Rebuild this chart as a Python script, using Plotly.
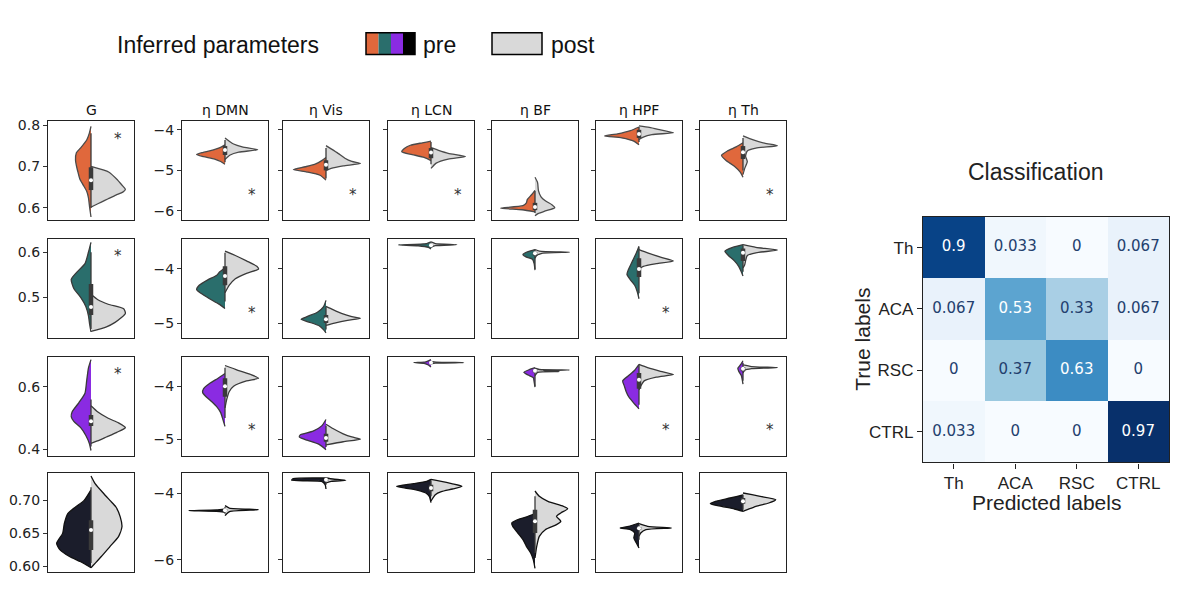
import plotly.graph_objects as go

# ---------------- data ----------------
params = ["G", "η DMN", "η Vis", "η LCN", "η BF", "η HPF", "η Th"]

# density profiles: [value, half-width] ; one list per parameter column
r1_pre = [
    [[0.797,0],[0.78,0.02],[0.764,0.05],[0.745,0.12],[0.733,0.17],[0.715,0.18],[0.702,0.17],[0.685,0.15],[0.670,0.13],[0.655,0.09],[0.64,0.05],[0.625,0.03],[0.6,0.015],[0.578,0]],
    [[-4.37,0],[-4.42,0.04],[-4.47,0.1],[-4.52,0.18],[-4.56,0.26],[-4.61,0.33],[-4.66,0.25],[-4.72,0.12],[-4.78,0.05],[-4.85,0]],
    [[-4.68,0],[-4.76,0.05],[-4.84,0.12],[-4.91,0.24],[-4.98,0.38],[-5.04,0.22],[-5.12,0.07],[-5.24,0]],
    [[-4.28,0],[-4.32,0.1],[-4.38,0.24],[-4.46,0.31],[-4.54,0.34],[-4.61,0.22],[-4.68,0.08],[-4.76,0]],
    [[-5.49,0],[-5.6,0.04],[-5.72,0.09],[-5.8,0.1],[-5.87,0.14],[-5.93,0.40],[-5.97,0.15],[-6.02,0]],
    [[-3.93,0],[-4.02,0.1],[-4.1,0.25],[-4.15,0.40],[-4.2,0.2],[-4.28,0.06],[-4.37,0]],
    [[-4.32,0],[-4.42,0.08],[-4.52,0.18],[-4.63,0.25],[-4.75,0.2],[-4.9,0.1],[-5.05,0.03],[-5.17,0]],
]
r1_post = [
    [[0.70,0],[0.686,0.21],[0.667,0.31],[0.655,0.36],[0.645,0.40],[0.638,0.37],[0.631,0.29],[0.622,0.2],[0.614,0.12],[0.607,0.05],[0.602,0]],
    [[-4.2,0],[-4.28,0.05],[-4.35,0.1],[-4.42,0.2],[-4.49,0.38],[-4.55,0.16],[-4.62,0.06],[-4.73,0]],
    [[-4.39,0],[-4.47,0.06],[-4.58,0.14],[-4.7,0.22],[-4.78,0.3],[-4.83,0.40],[-4.89,0.2],[-4.95,0.06],[-5.0,0]],
    [[-4.44,0],[-4.5,0.08],[-4.58,0.2],[-4.66,0.40],[-4.72,0.2],[-4.82,0.06],[-4.95,0]],
    [[-5.17,0],[-5.3,0.03],[-5.5,0.04],[-5.65,0.07],[-5.75,0.12],[-5.85,0.2],[-5.92,0.23],[-6.0,0.12],[-6.06,0.04],[-6.12,0]],
    [[-3.9,0],[-3.94,0.12],[-4.0,0.25],[-4.07,0.40],[-4.12,0.15],[-4.18,0.05],[-4.24,0]],
    [[-4.15,0],[-4.25,0.12],[-4.33,0.25],[-4.39,0.40],[-4.45,0.15],[-4.52,0.05],[-4.65,0.03],[-4.78,0.05],[-4.95,0.02],[-5.1,0]],
]
r2_pre = [
    [[0.622,0],[0.60,0.03],[0.575,0.07],[0.555,0.17],[0.54,0.23],[0.52,0.2],[0.50,0.12],[0.48,0.06],[0.46,0.03],[0.44,0.015],[0.424,0]],
    [[-3.98,0],[-4.05,0.06],[-4.12,0.1],[-4.2,0.2],[-4.3,0.3],[-4.38,0.33],[-4.45,0.28],[-4.55,0.18],[-4.65,0.07],[-4.73,0]],
    [[-4.58,0],[-4.7,0.03],[-4.8,0.1],[-4.88,0.22],[-4.93,0.29],[-4.98,0.2],[-5.05,0.08],[-5.12,0.03],[-5.18,0]],
    [[-3.5,0],[-3.53,0.05],[-3.555,0.38],[-3.57,0.15],[-3.6,0.03],[-3.63,0]],
    [[-3.64,0],[-3.68,0.08],[-3.73,0.14],[-3.78,0.1],[-3.82,0.03],[-3.9,0.01],[-4.02,0]],
    [[-3.58,0],[-3.7,0.03],[-3.8,0.06],[-3.9,0.09],[-4.0,0.12],[-4.1,0.14],[-4.2,0.1],[-4.3,0.05],[-4.42,0.02],[-4.55,0]],
    [[-3.55,0],[-3.6,0.12],[-3.67,0.21],[-3.75,0.17],[-3.85,0.1],[-3.95,0.05],[-4.05,0.02],[-4.13,0]],
]
r2_post = [
    [[0.507,0],[0.495,0.08],[0.485,0.2],[0.475,0.38],[0.465,0.40],[0.455,0.35],[0.445,0.28],[0.435,0.18],[0.425,0]],
    [[-3.67,0],[-3.75,0.12],[-3.85,0.25],[-3.95,0.37],[-4.0,0.39],[-4.08,0.25],[-4.18,0.12],[-4.3,0.05],[-4.44,0]],
    [[-4.69,0],[-4.75,0.08],[-4.82,0.18],[-4.88,0.3],[-4.91,0.40],[-4.95,0.25],[-5.0,0.1],[-5.04,0]],
    [[-3.5,0],[-3.53,0.05],[-3.55,0.30],[-3.57,0.05],[-3.6,0]],
    [[-3.64,0],[-3.67,0.05],[-3.69,0.40],[-3.71,0.08],[-3.75,0.02],[-3.8,0]],
    [[-3.64,0],[-3.7,0.1],[-3.78,0.25],[-3.85,0.40],[-3.9,0.2],[-3.95,0.05],[-4.0,0]],
    [[-3.55,0],[-3.6,0.15],[-3.65,0.40],[-3.7,0.15],[-3.75,0.05],[-3.85,0.03],[-3.92,0.02],[-3.98,0]],
]
r3_pre = [
    [[0.687,0],[0.66,0.03],[0.62,0.05],[0.58,0.07],[0.55,0.14],[0.52,0.22],[0.505,0.23],[0.49,0.2],[0.47,0.12],[0.445,0.06],[0.42,0.02],[0.397,0]],
    [[-3.76,0],[-3.85,0.08],[-3.95,0.18],[-4.05,0.25],[-4.12,0.26],[-4.2,0.22],[-4.3,0.15],[-4.4,0.09],[-4.5,0.05],[-4.6,0.03],[-4.76,0]],
    [[-4.63,0],[-4.75,0.05],[-4.85,0.15],[-4.92,0.3],[-4.96,0.31],[-5.02,0.22],[-5.1,0.08],[-5.2,0]],
    [[-3.5,0],[-3.54,0.06],[-3.555,0.2],[-3.57,0.08],[-3.6,0.03],[-3.64,0]],
    [[-3.65,0],[-3.69,0.07],[-3.74,0.13],[-3.79,0.08],[-3.84,0.02],[-3.92,0.01],[-4.02,0]],
    [[-3.59,0],[-3.7,0.05],[-3.8,0.12],[-3.9,0.19],[-4.0,0.17],[-4.1,0.15],[-4.2,0.12],[-4.3,0.07],[-4.43,0]],
    [[-3.52,0],[-3.6,0.03],[-3.66,0.06],[-3.72,0.05],[-3.8,0.02],[-3.96,0]],
]
r3_post = [
    [[0.54,0],[0.52,0.08],[0.5,0.2],[0.485,0.32],[0.47,0.40],[0.455,0.3],[0.44,0.18],[0.43,0.1],[0.42,0]],
    [[-3.61,0],[-3.7,0.15],[-3.78,0.3],[-3.85,0.39],[-3.9,0.25],[-4.0,0.1],[-4.1,0.05],[-4.25,0.02],[-4.41,0]],
    [[-4.72,0],[-4.8,0.08],[-4.9,0.2],[-4.96,0.3],[-5.0,0.40],[-5.05,0.2],[-5.11,0]],
    [[-3.53,0],[-3.545,0.06],[-3.555,0.38],[-3.565,0.05],[-3.58,0]],
    [[-3.66,0],[-3.685,0.05],[-3.695,0.40],[-3.71,0.1],[-3.725,0.28],[-3.74,0.03],[-3.8,0]],
    [[-3.59,0],[-3.65,0.1],[-3.72,0.25],[-3.78,0.40],[-3.83,0.2],[-3.9,0.06],[-4.0,0.02],[-4.07,0]],
    [[-3.6,0],[-3.63,0.1],[-3.65,0.40],[-3.67,0.1],[-3.7,0.02],[-3.75,0]],
]
r4_pre = [
    [[0.716,0],[0.70,0.08],[0.69,0.18],[0.68,0.27],[0.665,0.31],[0.65,0.33],[0.635,0.40],[0.625,0.36],[0.615,0.25],[0.607,0.12],[0.598,0]],
    [[-4.48,0],[-4.51,0.1],[-4.53,0.42],[-4.55,0.1],[-4.58,0]],
    [[-3.55,0],[-3.57,0.38],[-3.62,0.40],[-3.65,0.05],[-3.75,0.01],[-3.88,0]],
    [[-3.59,0],[-3.65,0.05],[-3.72,0.2],[-3.8,0.40],[-3.85,0.3],[-3.92,0.15],[-4.0,0.06],[-4.1,0.02],[-4.29,0]],
    [[-4.62,0],[-4.7,0.08],[-4.8,0.2],[-4.9,0.27],[-5.0,0.26],[-5.2,0.2],[-5.4,0.14],[-5.6,0.1],[-5.8,0.05],[-6.0,0.02],[-6.26,0]],
    [[-4.9,0],[-5.0,0.12],[-5.05,0.22],[-5.1,0.1],[-5.2,0.05],[-5.35,0.06],[-5.5,0.03],[-5.65,0]],
    [[-4.06,0],[-4.15,0.15],[-4.25,0.32],[-4.32,0.38],[-4.4,0.25],[-4.48,0.1],[-4.55,0]],
]
r4_post = [
    [[0.737,0],[0.725,0.05],[0.71,0.15],[0.7,0.22],[0.69,0.29],[0.675,0.34],[0.66,0.36],[0.645,0.32],[0.63,0.22],[0.615,0.12],[0.605,0.05],[0.598,0]],
    [[-4.38,0],[-4.45,0.05],[-4.5,0.39],[-4.55,0.06],[-4.62,0.02],[-4.68,0]],
    [[-3.55,0],[-3.58,0.08],[-3.62,0.23],[-3.65,0.06],[-3.7,0]],
    [[-3.59,0],[-3.65,0.12],[-3.72,0.24],[-3.8,0.36],[-3.88,0.25],[-3.96,0.12],[-4.05,0.05],[-4.24,0]],
    [[-3.94,0],[-4.1,0.05],[-4.25,0.15],[-4.4,0.33],[-4.47,0.38],[-4.6,0.3],[-4.7,0.25],[-4.85,0.3],[-4.95,0.25],[-5.1,0.12],[-5.3,0.05],[-5.6,0.02],[-5.95,0]],
    [[-4.92,0],[-5.0,0.1],[-5.05,0.38],[-5.1,0.08],[-5.2,0.02],[-5.3,0]],
    [[-4.0,0],[-4.1,0.2],[-4.2,0.38],[-4.3,0.3],[-4.4,0.15],[-4.5,0.05],[-4.55,0]],
]
# inner box: [low whisker, q1, median, q3, high whisker]
r1_box = [[0.60,0.643,0.667,0.698,0.78],[-4.8,-4.62,-4.5,-4.4,-4.25],[-5.2,-5.0,-4.86,-4.75,-4.45],
          [-4.85,-4.7,-4.56,-4.45,-4.3],[-6.05,-5.98,-5.9,-5.8,-5.5],[-4.3,-4.2,-4.1,-4.0,-3.93],[-5.0,-4.72,-4.55,-4.4,-4.2]]
r2_box = [[0.43,0.461,0.479,0.53,0.6],[-4.6,-4.3,-4.13,-3.95,-3.7],[-5.12,-5.0,-4.93,-4.85,-4.7],
          [-3.6,-3.57,-3.56,-3.55,-3.52],[-4.0,-3.75,-3.71,-3.68,-3.65],[-4.45,-4.15,-4.0,-3.8,-3.6],[-4.05,-3.85,-3.7,-3.62,-3.56]]
r3_box = [[0.41,0.475,0.49,0.51,0.56],[-4.6,-4.2,-4.0,-3.85,-3.65],[-5.15,-5.05,-4.98,-4.9,-4.75],
          [-3.6,-3.57,-3.56,-3.55,-3.53],[-4.0,-3.74,-3.71,-3.69,-3.66],[-4.35,-4.05,-3.88,-3.75,-3.6],[-3.9,-3.72,-3.67,-3.64,-3.56]]
r4_box = [[0.605,0.625,0.655,0.67,0.72],[-4.62,-4.55,-4.52,-4.49,-4.42],[-3.75,-3.64,-3.6,-3.58,-3.56],
          [-4.1,-3.95,-3.85,-3.75,-3.62],[-5.8,-5.2,-4.85,-4.5,-4.1],[-5.4,-5.1,-5.06,-5.02,-4.95],[-4.5,-4.32,-4.25,-4.15,-4.05]]

# significance markers (row, column, value)
sig_row = [0, 0, 0, 0, 0, 1, 1, 1, 2, 2, 2, 2]
sig_col = [0, 1, 2, 3, 6, 0, 1, 5, 0, 1, 5, 6]
sig_val = [0.774, -5.54, -5.54, -5.54, -5.54, 0.598, -4.76, -4.75, 0.65, -4.78, -4.78, -4.78]

# confusion matrix
cm_labels = ["Th", "ACA", "RSC", "CTRL"]
cm_values = [[0.9, 0.033, 0, 0.067],
             [0.067, 0.53, 0.33, 0.067],
             [0, 0.37, 0.63, 0],
             [0.033, 0, 0, 0.97]]

# ---------------- style / layout ----------------
W, H = 1200, 599
OFF = 8  # page body margin of the browser


def PX(px):
    return (px - OFF) / W


def PY(py):
    return 1 - (py - OFF) / H


pre_colors = ["#E0683C", "#2A6E6C", "#8A2BE2", "#1B1D2B"]
edge_colors = ["#4a4a4a", "#3a3a3a", "#3a3a3a", "#111111"]
post_color = "#D9D9D9"
col_left = [48, 182, 283, 388, 492, 596, 700]
row_top = [118, 237, 356, 474]
PW, PH = 86, 100
g_ranges = [[0.571, 0.81], [0.411, 0.630], [0.381, 0.697], [0.591, 0.741]]
eta_ranges = [[-6.22, -3.78], [-5.27, -3.44], [-5.31, -3.44], [-6.38, -3.41]]
g_ticks = [[0.6, 0.7, 0.8], [0.5, 0.6], [0.4, 0.6], [0.60, 0.65, 0.70]]
g_fmt = [".1f", ".1f", ".1f", ".2f"]
eta_ticks = [[-6, -5, -4], [-5, -4], [-5, -4], [-6, -4]]

pre_rows = [r1_pre, r2_pre, r3_pre, r4_pre]
post_rows = [r1_post, r2_post, r3_post, r4_post]
box_rows = [r1_box, r2_box, r3_box, r4_box]

DV = "DejaVu Sans"
HV = "Liberation Sans"

fig = go.Figure()
layout = dict(width=W, height=H, margin=dict(l=0, r=0, t=0, b=0),
              paper_bgcolor="white", plot_bgcolor="white", showlegend=False)
annotations = []
shapes = []


def axname(i):
    return "" if i == 1 else str(i)


idx = 0
for r in range(4):
    for c in range(7):
        idx += 1
        n = axname(idx)
        xref, yref = "x" + n, "y" + n
        axstyle = dict(showline=True, mirror=True, linecolor="#222", linewidth=1.2,
                       showgrid=False, zeroline=False)
        layout["xaxis" + n] = dict(domain=[PX(col_left[c]), PX(col_left[c] + PW)], range=[-0.5, 0.5],
                                   showticklabels=False, ticks="", anchor=yref, fixedrange=True, **axstyle)
        if c == 0:
            yr, tv, fmt, lab = g_ranges[r], g_ticks[r], g_fmt[r], True
        else:
            yr, tv, fmt, lab = eta_ranges[r], eta_ticks[r], "d", (c == 1)
        layout["yaxis" + n] = dict(domain=[PY(row_top[r] + PH), PY(row_top[r])], range=yr, tickvals=tv,
                                   tickformat=fmt, showticklabels=lab, ticks="outside", ticklen=4, tickwidth=1,
                                   tickcolor="#333", anchor=xref, fixedrange=True,
                                   tickfont=dict(family=DV, size=14, color="#222"), **axstyle)
        ec = edge_colors[r]
        # pre half (left)
        prof = pre_rows[r][c]
        ys = [p[0] for p in prof]
        xs = [-p[1] for p in prof]
        fig.add_trace(go.Scatter(x=[0] + xs + [0], y=[ys[0]] + ys + [ys[-1]], xaxis=xref, yaxis=yref,
                                 mode="lines", fill="toself", fillcolor=pre_colors[r],
                                 line=dict(color=ec, width=1.3, shape="spline", smoothing=0.6),
                                 hoverinfo="skip"))
        # post half (right)
        prof = post_rows[r][c]
        ys = [p[0] for p in prof]
        xs = [p[1] for p in prof]
        fig.add_trace(go.Scatter(x=[0] + xs + [0], y=[ys[0]] + ys + [ys[-1]], xaxis=xref, yaxis=yref,
                                 mode="lines", fill="toself", fillcolor=post_color,
                                 line=dict(color=ec, width=1.3, shape="spline", smoothing=0.6),
                                 hoverinfo="skip"))
        # inner box
        lo, q1, med, q3, hi = box_rows[r][c]
        fig.add_trace(go.Scatter(x=[0, 0], y=[lo, hi], xaxis=xref, yaxis=yref, mode="lines",
                                 line=dict(color="#3a3a3a", width=1.3), hoverinfo="skip"))
        fig.add_trace(go.Scatter(x=[0, 0], y=[q1, q3], xaxis=xref, yaxis=yref, mode="lines",
                                 line=dict(color="#3a3a3a", width=4.5), hoverinfo="skip"))
        fig.add_trace(go.Scatter(x=[0], y=[med], xaxis=xref, yaxis=yref, mode="markers",
                                 marker=dict(color="white", size=4, line=dict(width=0)),
                                 hoverinfo="skip"))
        if r == 0:
            annotations.append(dict(text=params[c], xref=xref + " domain", yref=yref + " domain",
                                    x=0.5, y=1, yanchor="bottom", xanchor="center", yshift=1,
                                    showarrow=False, font=dict(family=DV, size=14, color="#111")))

# significance asterisks
for rr, cc, vv in zip(sig_row, sig_col, sig_val):
    n = axname(rr * 7 + cc + 1)
    annotations.append(dict(text="*", xref="x" + n, yref="y" + n, x=0.31, y=vv,
                            showarrow=False, yshift=-3,
                            font=dict(family=DV, size=15, color="#333")))

# ---------------- confusion matrix ----------------
blues = [[0.0, "#f7fbff"], [0.125, "#deebf7"], [0.25, "#c6dbef"], [0.375, "#9ecae1"],
         [0.5, "#6baed6"], [0.625, "#4292c6"], [0.75, "#2171b5"], [0.875, "#08519c"], [1.0, "#08306b"]]
hm = axname(29)
zmax = max(max(row) for row in cm_values)
fig.add_trace(go.Heatmap(z=cm_values, x=cm_labels, y=cm_labels, colorscale=blues, zmin=0, zmax=zmax,
                         showscale=False, xaxis="x" + hm, yaxis="y" + hm, hoverinfo="skip"))
tx, ty, tt, tc = [], [], [], []
for i, rowv in enumerate(cm_values):
    for j, v in enumerate(rowv):
        tx.append(cm_labels[j]); ty.append(cm_labels[i])
        tt.append("{:.2g}".format(v))
        tc.append("white" if v > zmax / 2 else "#23406e")
fig.add_trace(go.Scatter(x=tx, y=ty, text=tt, mode="text", textfont=dict(family=DV, size=15, color=tc),
                         xaxis="x" + hm, yaxis="y" + hm, hoverinfo="skip"))
layout["xaxis" + hm] = dict(domain=[PX(923), PX(1169)], anchor="y" + hm, showline=True, mirror=True,
                            linecolor="#222", linewidth=1.3, ticks="outside", ticklen=5, tickcolor="#222",
                            tickfont=dict(family=HV, size=17, color="#222"), showgrid=False, zeroline=False,
                            fixedrange=True)
layout["yaxis" + hm] = dict(domain=[PY(463), PY(215)], anchor="x" + hm, showline=True, mirror=True,
                            autorange="reversed",
                            linecolor="#222", linewidth=1.3, ticks="outside", ticklen=5, tickcolor="#222",
                            tickfont=dict(family=HV, size=17, color="#222"), showgrid=False, zeroline=False,
                            fixedrange=True)
annotations.append(dict(text="Predicted labels", xref="paper", yref="paper", x=PX(1046), y=PY(503),
                        xanchor="center", yanchor="middle", showarrow=False,
                        font=dict(family=HV, size=21, color="#222")))
annotations.append(dict(text="True labels", xref="paper", yref="paper", x=PX(863), y=PY(339),
                        xanchor="center", yanchor="middle", showarrow=False, textangle=-90,
                        font=dict(family=HV, size=21, color="#222")))
annotations.append(dict(text="Classification", xref="paper", yref="paper", x=PX(1036), y=PY(170),
                        xanchor="center", yanchor="middle", showarrow=False,
                        font=dict(family=HV, size=23, color="#222")))

# ---------------- legend ----------------
ly = PY(41)
annotations.append(dict(text="Inferred parameters", xref="paper", yref="paper", x=PX(115), y=ly,
                        xanchor="left", yanchor="middle", showarrow=False,
                        font=dict(family=HV, size=23, color="#111")))
seg = [366, 378.5, 391, 403, 415]
for k in range(4):
    shapes.append(dict(type="rect", xref="paper", yref="paper", x0=PX(seg[k]), x1=PX(seg[k + 1]),
                       y0=PY(51), y1=PY(29), fillcolor=pre_colors[k] if k < 3 else "#000000",
                       line=dict(width=0)))
shapes.append(dict(type="rect", xref="paper", yref="paper", x0=PX(366), x1=PX(415),
                   y0=PY(51), y1=PY(29), line=dict(color="#000", width=1.5)))
annotations.append(dict(text="pre", xref="paper", yref="paper", x=PX(421), y=ly, xanchor="left",
                        yanchor="middle", showarrow=False, font=dict(family=HV, size=23, color="#111")))
shapes.append(dict(type="rect", xref="paper", yref="paper", x0=PX(492), x1=PX(542),
                   y0=PY(51), y1=PY(29), fillcolor=post_color, line=dict(color="#000", width=1.5)))
annotations.append(dict(text="post", xref="paper", yref="paper", x=PX(549), y=ly, xanchor="left",
                        yanchor="middle", showarrow=False, font=dict(family=HV, size=23, color="#111")))

layout["annotations"] = annotations
layout["shapes"] = shapes
fig.update_layout(**layout)
fig.write_html("out.html")
